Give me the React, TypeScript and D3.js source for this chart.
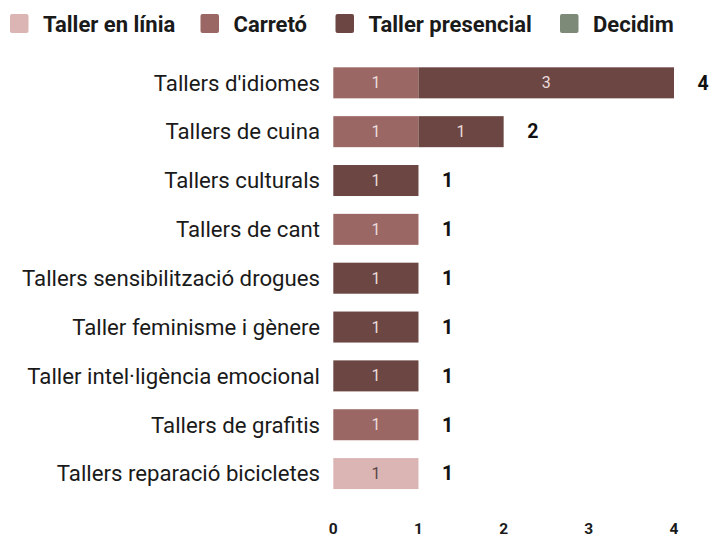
import React from "react";
import * as d3 from "d3";

const categories = [
  "Tallers d'idiomes",
  "Tallers de cuina",
  "Tallers culturals",
  "Tallers de cant",
  "Tallers sensibilització drogues",
  "Taller feminisme i gènere",
  "Taller intel·ligència emocional",
  "Tallers de grafitis",
  "Tallers reparació bicicletes",
];
const seriesNames = ["Taller en línia", "Carretó", "Taller presencial", "Decidim"];
const tallerEnLinia = [0, 0, 0, 0, 0, 0, 0, 0, 1];
const carreto = [1, 1, 0, 1, 0, 0, 0, 1, 0];
const tallerPresencial = [3, 1, 1, 0, 1, 1, 1, 0, 0];
const decidim = [0, 0, 0, 0, 0, 0, 0, 0, 0];
const xTicks = [0, 1, 2, 3, 4];
const colors = ["#dbb5b4", "#9b6764", "#6b4643", "#7e8a78"];

export default function App() {
  const W = 711, H = 536;
  const x = d3.scaleLinear().domain([0, 4]).range([333.3, 674]);
  const y = d3.scaleBand().domain(categories).range([58.4, 498]).paddingInner(0.365).paddingOuter(0.1825);
  const rows = categories.map((c, i) => ({
    cat: c,
    v: [tallerEnLinia[i], carreto[i], tallerPresencial[i], decidim[i]],
  }));
  const stack = d3.stack<any>().keys([0, 1, 2, 3] as any).value((d: any, k: any) => d.v[k]);
  const stacked = stack(rows);
  const legendX = [10, 200.5, 335.5, 560];
  const font = "Roboto, sans-serif";
  return (
    <svg width={W} height={H} style={{ position: "absolute", left: 0, top: 0 }} fontFamily={font}>
      <rect width={W} height={H} fill="#fff" />
      {seriesNames.map((s, i) => (
        <g key={s}>
          <rect x={legendX[i]} y={14} width={18.5} height={19} rx={2} fill={colors[i]} />
          <text x={legendX[i] + 33} y={31.5} fontSize={22} fontWeight={700} fill="#1a1a1a">{s}</text>
        </g>
      ))}
      {categories.map((c) => (
        <text key={c} x={320} y={(y(c) as number) + y.bandwidth() / 2} dy="0.35em" textAnchor="end" fontSize={22.2} fill="#1a1a1a">{c}</text>
      ))}
      {stacked.map((layer, si) =>
        layer.map((d, i) => {
          const w = x(d[1]) - x(d[0]);
          if (w <= 0) return null;
          const yy = y(categories[i]) as number;
          return (
            <g key={si + "-" + i}>
              <rect x={x(d[0])} y={yy} width={w} height={y.bandwidth()} fill={colors[si]} />
              <text x={(x(d[0]) + x(d[1])) / 2} y={yy + y.bandwidth() / 2} dy="0.35em" textAnchor="middle" fontSize={16} fill={si === 0 ? "#5a4646" : "#ecdcdb"}>{d[1] - d[0]}</text>
            </g>
          );
        })
      )}
      {rows.map((r) => {
        const total = d3.sum(r.v);
        return (
          <text key={r.cat} x={x(total) + 23.5} y={(y(r.cat) as number) + y.bandwidth() / 2} dy="0.35em" fontSize={19.5} fontWeight={700} fill="#111">{total}</text>
        );
      })}
      {xTicks.map((t) => (
        <text key={t} x={x(t)} y={533.5} textAnchor="middle" fontSize={15.5} fontWeight={700} fill="#1a1a1a">{t}</text>
      ))}
    </svg>
  );
}
